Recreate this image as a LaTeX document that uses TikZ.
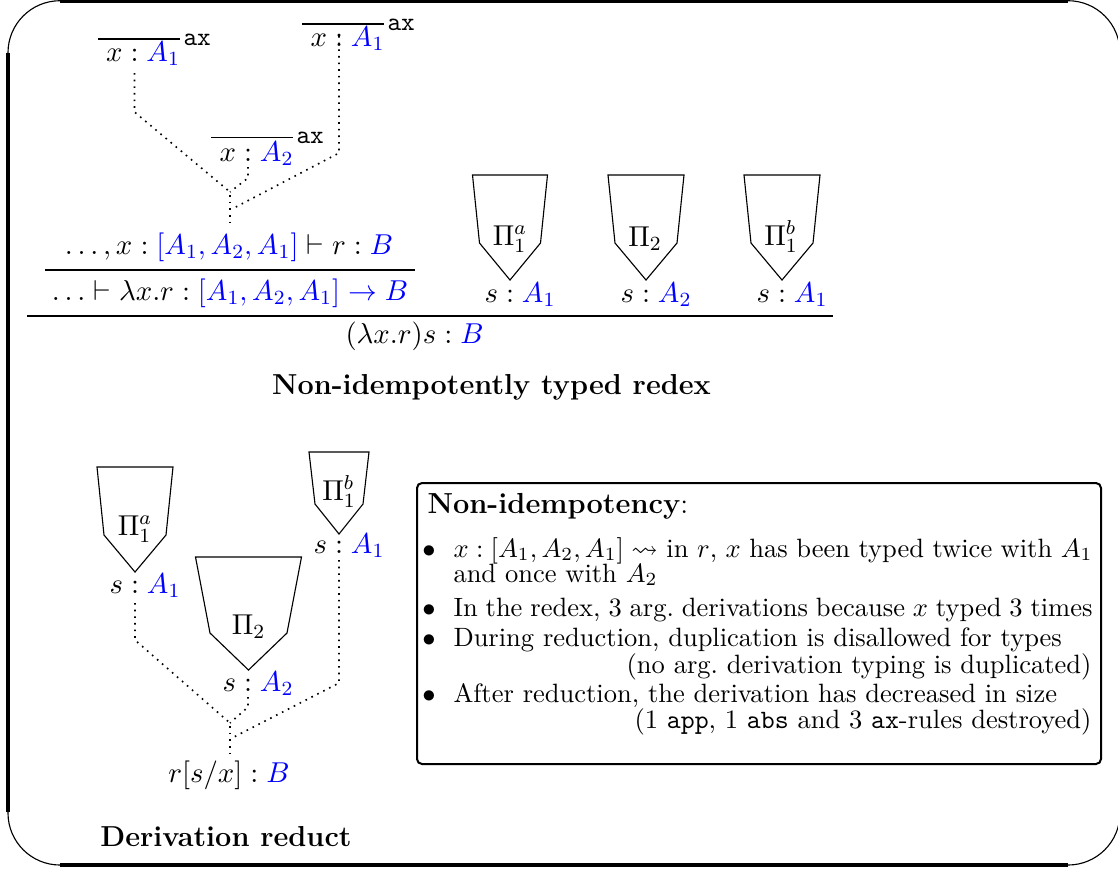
\RequirePackage{fix-cm}
\documentclass[tikz,border=0pt]{standalone}
\usepackage{amssymb}
\usepackage{fontspec}
\newcommand{\ty}[1]{{\color{blue}#1}}
\newcommand{\jdg}[2]{\makebox[0pt][r]{$#1\mskip\thickmuskip$}$:$\makebox[0pt][l]{$\mskip\thickmuskip#2$}}
\tikzset{
  jd/.style={inner sep=0pt, anchor=base, font=\fontsize{11.5}{13.8}\selectfont},
  axlab/.style={inner sep=0pt, anchor=base west, font=\fontsize{10.4}{12}\selectfont\ttfamily},
  rl/.style={line width=0.6pt},
  dots/.style={dotted, line width=0.65pt},
  pishape/.style={draw, line width=0.45pt, line join=miter},
  frameedge/.style={line width=1.6pt},
  framearc/.style={line width=0.45pt},
  infobox/.style={line width=0.8pt, rounded corners=2pt},
  heading/.style={inner sep=0pt, anchor=base, font=\fontsize{11.55}{13.8}\selectfont\bfseries},
  txt/.style={inner sep=0pt, anchor=base west, font=\fontsize{10.6}{12.6}\selectfont},
  txtr/.style={inner sep=0pt, anchor=base east, font=\fontsize{10.6}{12.6}\selectfont},
  bul/.style={inner sep=0pt, anchor=base, font=\fontsize{10.6}{12.6}\selectfont},
}
\begin{document}
\begin{tikzpicture}[x=0.4pt, y=-0.4pt]
\useasboundingbox (0,0) rectangle (1118,869);
% outer frame
\draw[framearc, rounded corners=20.8pt] (8,0.7) rectangle (1120,865);
\draw[frameedge] (60,0.7) -- (1068,0.7);
\draw[frameedge] (8,53) -- (8,812);
\draw[frameedge] (60,865) -- (1068,865);

% ---------- top: redex ----------
% axioms
\draw[rl] (98,39) -- (180,39);
\node[jd] (axL) at (134.5,61.5) {\jdg{x}{\ty{A_1}}};
\node[axlab] (axLl) at (183,45) {ax};
\draw[rl] (302,24) -- (384,24);
\node[jd] (axR) at (339,46.5) {\jdg{x}{\ty{A_1}}};
\node[axlab] (axRl) at (387,30) {ax};
\draw[rl] (211,137.5) -- (293,137.5);
\node[jd] (axM) at (248,161) {\jdg{x}{\ty{A_2}}};
\node[axlab] (axMl) at (296,143.5) {ax};

% dotted connectors top
\coordinate (tl1) at (134.5,73);
\coordinate (tl2) at (134.5,112);
\coordinate (tj1) at (230,192);
\coordinate (tm1) at (248,167);
\coordinate (tm2) at (248,178);
\coordinate (tr1) at (339,36);
\coordinate (tr2) at (339,153);
\coordinate (tj2) at (232,209);
\coordinate (ts1) at (230,195);
\coordinate (ts2) at (230,223);
\draw[dots] (tl1) -- (tl2) -- (tj1);
\draw[dots] (tm1) -- (tm2) -- (tj1);
\draw[dots] (tr1) -- (tr2) -- (tj2);
\draw[dots] (ts1) -- (ts2);

% sequents
\node[jd] (seq1) at (229,254) {$\ldots, x : \ty{[A_1,A_2,A_1]} \vdash r : \ty{B}$};
\draw[rl] (45,270) -- (415,270);
\node[jd] (seq2) at (230,300) {$\ldots \vdash \lambda x.r : \ty{[A_1,A_2,A_1] \to B}$};
\draw[rl] (27,316) -- (833,316);
\node[jd] (res) at (414.5,343) {$(\lambda x.r)s : \ty{B}$};

% argument derivations
\draw[pishape] (472.5,175) -- (547.5,175) -- (540.5,243) -- (510,280) -- (479.5,243) -- cycle;
\node[jd] (p1a) at (510,245) {$\Pi_1^a$};
\node[jd] (s1a) at (510,302) {\jdg{s}{\ty{A_1}}};
\draw[pishape] (608,175) -- (684,175) -- (677,243) -- (646,280) -- (615,243) -- cycle;
\node[jd] (p2) at (645,246) {$\Pi_2$};
\node[jd] (s2) at (646,302) {\jdg{s}{\ty{A_2}}};
\draw[pishape] (744,175) -- (820,175) -- (813,243) -- (782,280) -- (751,243) -- cycle;
\node[jd] (p1b) at (781,245) {$\Pi_1^b$};
\node[jd] (s1b) at (782,302) {\jdg{s}{\ty{A_1}}};

\node[heading] (t1) at (491.5,394) {Non-idempotently typed redex};

% ---------- bottom: reduct ----------
\draw[pishape] (97,467) -- (173,467) -- (166,535) -- (135,572) -- (104,535) -- cycle;
\node[jd] (q1a) at (135,535) {$\Pi_1^a$};
\node[jd] (r1a) at (135,593) {\jdg{s}{\ty{A_1}}};
\draw[pishape] (195.5,557) -- (301.5,557) -- (287,633) -- (248.5,670) -- (210,633) -- cycle;
\node[jd] (q2) at (248.5,634) {$\Pi_2$};
\node[jd] (r2) at (248,691) {\jdg{s}{\ty{A_2}}};
\draw[pishape] (309,452) -- (369,452) -- (363,504) -- (339,534) -- (315,504) -- cycle;
\node[jd] (q1b) at (339,500) {$\Pi_1^b$};
\node[jd] (r1b) at (339,553) {\jdg{s}{\ty{A_1}}};

\coordinate (bl1) at (135,603);
\coordinate (bl2) at (135,640);
\coordinate (bj1) at (230,723);
\coordinate (bm1) at (248,697);
\coordinate (bm2) at (248,707);
\coordinate (br1) at (339,560);
\coordinate (br2) at (339,683);
\coordinate (bj2) at (232,738);
\coordinate (bs1) at (230,726);
\coordinate (bs2) at (230,753);
\draw[dots] (bl1) -- (bl2) -- (bj1);
\draw[dots] (bm1) -- (bm2) -- (bj1);
\draw[dots] (br1) -- (br2) -- (bj2);
\draw[dots] (bs1) -- (bs2);

\node[jd] (red) at (229,782) {$r[s/x] : \ty{B}$};
\node[heading] (t2) at (226,846) {Derivation reduct};

% ---------- info box ----------
\draw[infobox] (417,483) rectangle (1101,764);
\node[txt, font=\fontsize{11.6}{13.8}\selectfont] (h) at (427,513) {\textbf{Non-idempotency}:};
\node[bul] (b1) at (429,557) {$\bullet$};
\node[txt] (l1) at (453,557) {\hbox to 255.6pt{$x:[A_1,A_2,A_1]\leadsto$ in $r$, $x$ has been typed twice with $A_1$}};
\node[txt] (l2) at (453,582) {and once with $A_2$};
\node[bul] (b2) at (429,616) {$\bullet$};
\node[txt] (l3) at (453,616) {\hbox to 255.6pt{In the redex, 3 arg.\ derivations because $x$ typed 3 times}};
\node[bul] (b3) at (429,646) {$\bullet$};
\node[txt] (l4) at (453,646) {During reduction, duplication is disallowed for types};
\node[txtr] (l5) at (1092,673) {(no arg.\ derivation typing is duplicated)};
\node[bul] (b4) at (429,702) {$\bullet$};
\node[txt] (l6) at (453,702) {After reduction, the derivation has decreased in size};
\node[txtr] (l7) at (1092,728) {(1 \texttt{app}, 1 \texttt{abs} and 3 \texttt{ax}-rules destroyed)};
\end{tikzpicture}
\end{document}
